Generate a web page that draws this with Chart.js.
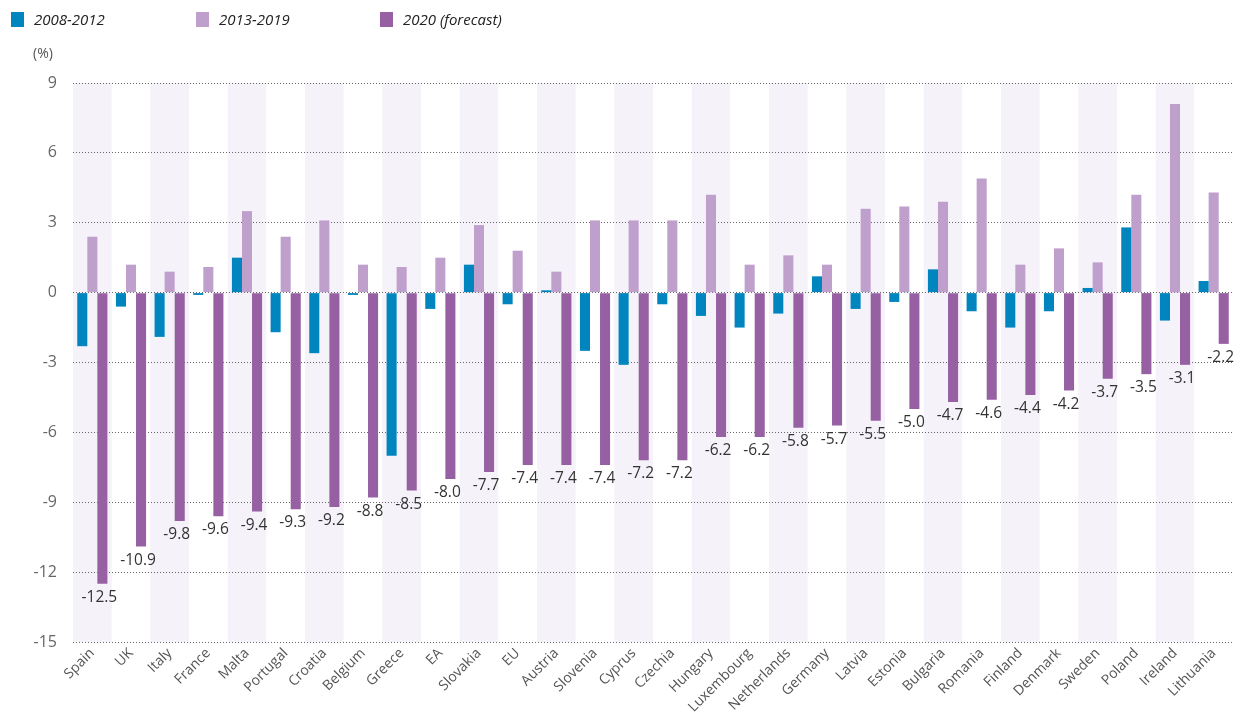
<!DOCTYPE html>
<html>
<head>
<meta charset="utf-8">
<script src="https://cdn.jsdelivr.net/npm/chart.js@4/dist/chart.umd.min.js"></script>
<style>
  html, body { margin: 0; padding: 0; background: #fff; }
  #wrap { position: relative; width: 1240px; height: 715px; font-family: "Open Sans", "Noto Sans", sans-serif; }
  #chart { position: absolute; left: 0; top: 0; }
  .leg { position: absolute; top: 9px; font-style: italic; font-size: 15px; color: #222; white-space: nowrap; }
  .leg i { position: absolute; left: 0; top: 3px; width: 13px; height: 15px; }
  .leg span { position: absolute; left: 23px; top: 0; }
  #unit { position: absolute; left: 33px; top: 43px; font-size: 14px; color: #555; }
</style>
</head>
<body>
<div id="wrap">
  <canvas id="chart" width="1240" height="715"></canvas>
  <div class="leg" style="left:11px"><i style="background:#0085be"></i><span>2008-2012</span></div>
  <div class="leg" style="left:196px"><i style="background:#bfa0cc"></i><span>2013-2019</span></div>
  <div class="leg" style="left:380px"><i style="background:#9660a3"></i><span>2020 (forecast)</span></div>
  <div id="unit">(%)</div>
</div>
<script>
  var countries = ['Spain', 'UK', 'Italy', 'France', 'Malta', 'Portugal', 'Croatia', 'Belgium', 'Greece', 'EA',
    'Slovakia', 'EU', 'Austria', 'Slovenia', 'Cyprus', 'Czechia', 'Hungary', 'Luxembourg', 'Netherlands', 'Germany',
    'Latvia', 'Estonia', 'Bulgaria', 'Romania', 'Finland', 'Denmark', 'Sweden', 'Poland', 'Ireland', 'Lithuania'];

  var period2008 = [-2.3, -0.6, -1.9, -0.1, 1.5, -1.7, -2.6, -0.1, -7.0, -0.7,
    1.2, -0.5, 0.1, -2.5, -3.1, -0.5, -1.0, -1.5, -0.9, 0.7,
    -0.7, -0.4, 1.0, -0.8, -1.5, -0.8, 0.2, 2.8, -1.2, 0.5];
  var period2013 = [2.4, 1.2, 0.9, 1.1, 3.5, 2.4, 3.1, 1.2, 1.1, 1.5,
    2.9, 1.8, 0.9, 3.1, 3.1, 3.1, 4.2, 1.2, 1.6, 1.2,
    3.6, 3.7, 3.9, 4.9, 1.2, 1.9, 1.3, 4.2, 8.1, 4.3];
  var forecast2020 = [-12.5, -10.9, -9.8, -9.6, -9.4, -9.3, -9.2, -8.8, -8.5, -8.0,
    -7.7, -7.4, -7.4, -7.4, -7.2, -7.2, -6.2, -6.2, -5.8, -5.7,
    -5.5, -5.0, -4.7, -4.6, -4.4, -4.2, -3.7, -3.5, -3.1, -2.2];

  var yMin = -15, yMax = 9, yStep = 3;
  var FONT = '"Open Sans", "Noto Sans", sans-serif';

  // alternating light bands behind every other country
  var bandPlugin = {
    id: 'bands',
    beforeDraw: function (chart) {
      var area = chart.chartArea, x = chart.scales.x, ctx = chart.ctx;
      var w = area.width / countries.length;
      ctx.save();
      ctx.fillStyle = '#f5f2f9';
      for (var i = 0; i < countries.length; i += 2) {
        var cx = x.getPixelForValue(i);
        ctx.fillRect(cx - w / 2, area.top, w, area.bottom - area.top);
      }
      ctx.restore();
    }
  };

  // value labels under the 2020 bars
  var labelPlugin = {
    id: 'valueLabels',
    afterDatasetsDraw: function (chart) {
      var meta = chart.getDatasetMeta(2), ctx = chart.ctx;
      ctx.save();
      ctx.font = '15.5px ' + FONT;
      ctx.fillStyle = '#333';
      ctx.textAlign = 'center';
      ctx.textBaseline = 'top';
      meta.data.forEach(function (bar, i) {
        ctx.fillText(forecast2020[i].toFixed(1), bar.x - 3, bar.y + 6);
      });
      ctx.restore();
    }
  };

  new Chart(document.getElementById('chart'), {
    type: 'bar',
    data: {
      labels: countries,
      datasets: [
        { label: '2008-2012', data: period2008, backgroundColor: '#0085be' },
        { label: '2013-2019', data: period2013, backgroundColor: '#bfa0cc' },
        { label: '2020 (forecast)', data: forecast2020, backgroundColor: '#9660a3' }
      ]
    },
    options: {
      responsive: false,
      animation: false,
      layout: { padding: { top: 83, right: 7, left: 0, bottom: 0 } },
      datasets: { bar: { categoryPercentage: 0.78, barPercentage: 1.0 } },
      plugins: { legend: { display: false }, tooltip: { enabled: false } },
      scales: {
        x: {
          grid: { display: false, drawTicks: false },
          border: { display: false },
          ticks: {
            color: '#555', font: { family: FONT, size: 14 },
            maxRotation: 45, minRotation: 45, autoSkip: false, padding: 3
          },
          afterFit: function (s) { s.height = 73; }
        },
        y: {
          min: yMin, max: yMax,
          grid: { color: '#666', lineWidth: 1, drawTicks: false },
          border: { display: false, dash: [1, 2] },
          ticks: { stepSize: yStep, color: '#666', font: { family: FONT, size: 16 }, padding: 16 },
          afterFit: function (s) { s.width = 73; }
        }
      }
    },
    plugins: [bandPlugin, labelPlugin]
  });
</script>
</body>
</html>
